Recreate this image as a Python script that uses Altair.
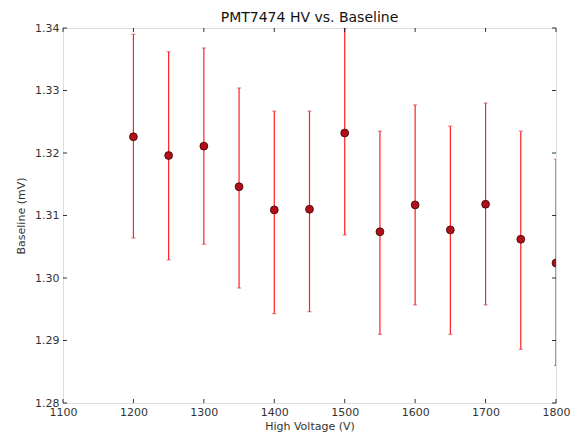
import altair as alt
import pandas as pd

voltage = [1200, 1250, 1300, 1350, 1400, 1450, 1500, 1550, 1600, 1650, 1700, 1750, 1800]
baseline = [1.3226, 1.3196, 1.3211, 1.3146, 1.3109, 1.3110, 1.3232, 1.3074, 1.3117, 1.3077, 1.3118, 1.3062, 1.3024]
err_lo = [1.3064, 1.3029, 1.3054, 1.2984, 1.2943, 1.2946, 1.3069, 1.2910, 1.2957, 1.2910, 1.2957, 1.2886, 1.2860]
err_hi = [1.3390, 1.3362, 1.3368, 1.3304, 1.3267, 1.3267, 1.3400, 1.3235, 1.3277, 1.3243, 1.3280, 1.3235, 1.3190]
x_ticks = [1100, 1200, 1300, 1400, 1500, 1600, 1700, 1800]
y_ticks = [1.28, 1.29, 1.30, 1.31, 1.32, 1.33, 1.34]

W, H = 493, 375
df = pd.DataFrame({"v": voltage, "b": baseline, "lo": err_lo, "hi": err_hi})
xt = pd.DataFrame({"t": x_ticks})
yt = pd.DataFrame({"t": y_ticks})

xs = alt.Scale(domain=[1100, 1800], nice=False)
ys = alt.Scale(domain=[1.28, 1.34], nice=False, zero=False)
font = "DejaVu Sans"

xaxis = alt.Axis(values=x_ticks, format="d", title="High Voltage (V)", tickSize=0, labelPadding=3,
                 labelFont=font, labelFontSize=11, labelColor="#333", titleFont=font, titleFontSize=11,
                 titleFontWeight="normal", titleColor="#333", titlePadding=3, grid=False, domain=False,
                 labelFlush=False)
yaxis = alt.Axis(values=y_ticks, format=".2f", title="Baseline (mV)", tickSize=0, labelPadding=4,
                 labelFont=font, labelFontSize=11, labelColor="#333", titleFont=font, titleFontSize=11,
                 titleFontWeight="normal", titleColor="#333", titlePadding=8, grid=False, domain=False,
                 labelFlush=False)

bars = alt.Chart(df).mark_rule(color="#ff2020", strokeWidth=1.2, clip=True).encode(
    x=alt.X("v:Q", scale=xs, axis=xaxis),
    y=alt.Y("lo:Q", scale=ys, axis=yaxis),
    y2="hi:Q",
)
caps_hi = alt.Chart(df).mark_tick(color="#cc3333", orient="horizontal", size=4, thickness=1, clip=True).encode(
    x=alt.X("v:Q", scale=xs), y=alt.Y("hi:Q", scale=ys))
caps_lo = alt.Chart(df).mark_tick(color="#cc3333", orient="horizontal", size=4, thickness=1, clip=True).encode(
    x=alt.X("v:Q", scale=xs), y=alt.Y("lo:Q", scale=ys))
pts = alt.Chart(df).mark_point(filled=True, shape="circle", size=62, color="#b0101a",
                               stroke="#400000", strokeWidth=0.8, opacity=1, clip=True).encode(
    x=alt.X("v:Q", scale=xs), y=alt.Y("b:Q", scale=ys))

tick_len = 4
xt_bot = alt.Chart(xt).mark_rule(color="black", strokeWidth=0.8).encode(
    x=alt.X("t:Q", scale=xs), y=alt.value(H), y2=alt.value(H - tick_len))
xt_top = alt.Chart(xt).mark_rule(color="black", strokeWidth=0.8).encode(
    x=alt.X("t:Q", scale=xs), y=alt.value(0), y2=alt.value(tick_len))
yt_left = alt.Chart(yt).mark_rule(color="black", strokeWidth=0.8).encode(
    y=alt.Y("t:Q", scale=ys), x=alt.value(0), x2=alt.value(tick_len))
yt_right = alt.Chart(yt).mark_rule(color="black", strokeWidth=0.8).encode(
    y=alt.Y("t:Q", scale=ys), x=alt.value(W), x2=alt.value(W - tick_len))

chart = alt.layer(bars, caps_hi, caps_lo, pts, xt_bot, xt_top, yt_left, yt_right).properties(
    width=W, height=H,
    title=alt.TitleParams("PMT7474 HV vs. Baseline", font=font, fontSize=14, fontWeight="normal",
                          color="#111", anchor="middle", offset=-3),
    padding={"left": 55, "top": 20, "right": 16, "bottom": 29},
    autosize=alt.AutoSizeParams(type="none"),
).configure_view(stroke="black", strokeWidth=1.2).configure(background="white")

chart.save("out.html", embed_options={"renderer": "svg", "actions": False})
